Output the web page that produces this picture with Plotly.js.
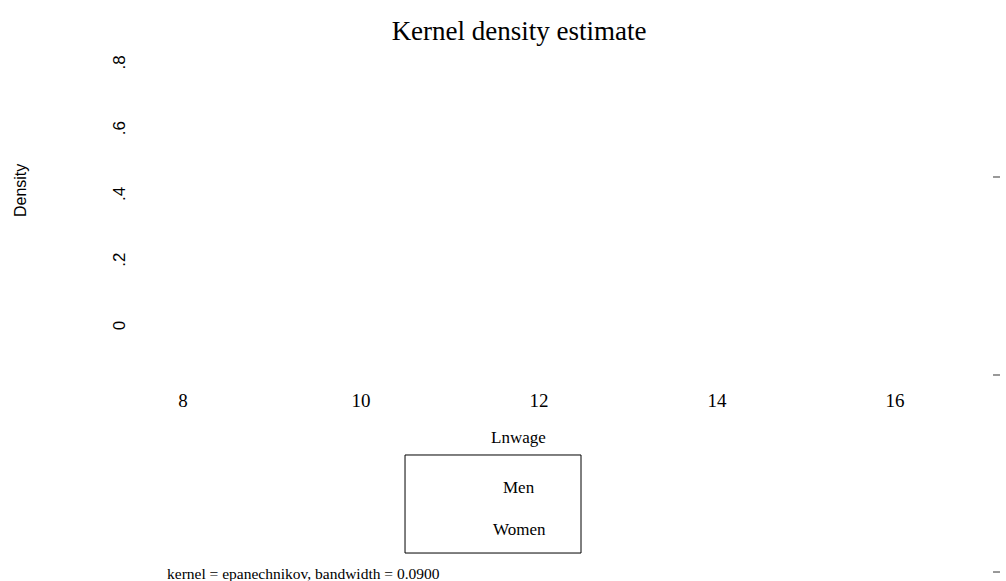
<!DOCTYPE html>
<html><head><meta charset="utf-8">
<script src="https://cdn.plot.ly/plotly-3.0.1.min.js"></script>
<style>html,body{margin:0;padding:0;background:#fff}#chart{width:1006px;height:581px}</style>
</head><body><div id="chart"></div>
<script>
// Series (no density curves are visible in the reference)
const groups = ["Men", "Women"];
const menX = [];
const menY = [];
const womenX = [];
const womenY = [];
// Tick values / labels
const xTickVals = [8, 10, 12, 14, 16];
const xTickText = ["8", "10", "12", "14", "16"];
const yTickVals = [0, 0.2, 0.4, 0.6, 0.8];
const yTickText = ["0", ".2", ".4", ".6", ".8"];
const titleText = "Kernel density estimate";
const xTitle = "Lnwage";
const yTitle = "Density";
const noteText = "kernel = epanechnikov, bandwidth = 0.0900";

const serif = "Liberation Serif, Times New Roman, serif";
const sans = "Liberation Sans, Arial, sans-serif";

const traces = [
  {x: menX, y: menY, name: groups[0], mode: "lines", line: {color: "#1a476f", width: 1.5}, showlegend: false},
  {x: womenX, y: womenY, name: groups[1], mode: "lines", line: {color: "#90353b", width: 1.5}, showlegend: false}
];

const annotations = [
  {text: xTitle, xref: "paper", yref: "paper", x: 0.45, y: -0.1746, showarrow: false, xanchor: "center", yanchor: "middle", font: {family: serif, size: 17, color: "#000"}},
  {text: yTitle, xref: "paper", yref: "paper", x: -0.1429, y: 0.556, showarrow: false, textangle: -90, xanchor: "center", yanchor: "middle", font: {family: sans, size: 16, color: "#000"}},
  {text: noteText, xref: "paper", yref: "paper", x: 0.0298, y: -0.577, showarrow: false, xanchor: "left", yanchor: "middle", font: {family: serif, size: 15.5, color: "#000"}}
];
const legendY = [-0.3254, -0.4497];
groups.forEach((g, i) => annotations.push({text: g, xref: "paper", yref: "paper", x: 0.4512, y: legendY[i], showarrow: false, xanchor: "center", yanchor: "middle", font: {family: serif, size: 17, color: "#000"}}));

const shapes = [
  {type: "rect", xref: "paper", yref: "paper", x0: 0.3155, x1: 0.525, y0: -0.2278, y1: -0.5178, line: {color: "#000", width: 1}, fillcolor: "rgba(0,0,0,0)"}
];
[0.5947, 0.0089, -0.574].forEach(yy => shapes.push({type: "line", xref: "paper", yref: "paper", x0: 1.0155, x1: 1.0238, y0: yy, y1: yy, line: {color: "#777", width: 1.5}}));

const layout = {
  width: 1006, height: 581,
  margin: {l: 140, r: 26, t: 40, b: 203},
  paper_bgcolor: "#fff", plot_bgcolor: "#fff",
  showlegend: false,
  title: {text: titleText, x: 0.516, xanchor: "center", y: 0.948, yanchor: "middle", font: {family: serif, size: 27, color: "#000"}},
  xaxis: {range: [7.517, 16.955], tickvals: xTickVals, ticktext: xTickText, showgrid: false, zeroline: false, showline: false, ticks: "", ticklabelstandoff: 9, tickfont: {family: serif, size: 19, color: "#000"}, fixedrange: true},
  yaxis: {range: [-0.152, 0.876], tickvals: yTickVals, ticktext: yTickText, tickangle: -90, showgrid: false, zeroline: false, showline: false, ticks: "", ticklabelstandoff: 11, tickfont: {family: sans, size: 17, color: "#000"}, fixedrange: true},
  annotations: annotations,
  shapes: shapes
};
Plotly.newPlot("chart", traces, layout, {displayModeBar: false, staticPlot: true});
</script>
</body></html>
